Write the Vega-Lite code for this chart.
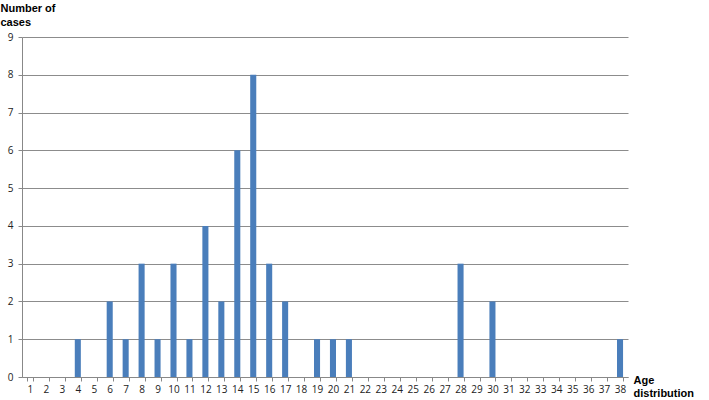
{
  "$schema": "https://vega.github.io/schema/vega-lite/v6.json",
  "width": 606,
  "height": 340,
  "autosize": {"type": "none"},
  "padding": {"left": 22, "top": 37, "right": 81, "bottom": 23},
  "background": "white",
  "data": {"values": [
    {"age": 1, "cases": 0}, {"age": 2, "cases": 0}, {"age": 3, "cases": 0}, {"age": 4, "cases": 1},
    {"age": 5, "cases": 0}, {"age": 6, "cases": 2}, {"age": 7, "cases": 1}, {"age": 8, "cases": 3},
    {"age": 9, "cases": 1}, {"age": 10, "cases": 3}, {"age": 11, "cases": 1}, {"age": 12, "cases": 4},
    {"age": 13, "cases": 2}, {"age": 14, "cases": 6}, {"age": 15, "cases": 8}, {"age": 16, "cases": 3},
    {"age": 17, "cases": 2}, {"age": 18, "cases": 0}, {"age": 19, "cases": 1}, {"age": 20, "cases": 1},
    {"age": 21, "cases": 1}, {"age": 22, "cases": 0}, {"age": 23, "cases": 0}, {"age": 24, "cases": 0},
    {"age": 25, "cases": 0}, {"age": 26, "cases": 0}, {"age": 27, "cases": 0}, {"age": 28, "cases": 3},
    {"age": 29, "cases": 0}, {"age": 30, "cases": 2}, {"age": 31, "cases": 0}, {"age": 32, "cases": 0},
    {"age": 33, "cases": 0}, {"age": 34, "cases": 0}, {"age": 35, "cases": 0}, {"age": 36, "cases": 0},
    {"age": 37, "cases": 0}, {"age": 38, "cases": 1}
  ]},
  "mark": {"type": "bar", "color": "#4a7ebb"},
  "encoding": {
    "x": {
      "field": "age", "type": "ordinal", "sort": null,
      "scale": {"paddingInner": 0.62, "paddingOuter": 0.31},
      "axis": {
        "title": ["Age", "distribution"],
        "titleFont": "Liberation Sans", "titleFontSize": 11, "titleFontWeight": "bold", "titleColor": "black",
        "titleAlign": "left", "titleBaseline": "top", "titleAnchor": null, "titleX": 611, "titleY": -3, "titleLineHeight": 13,
        "labelAngle": 0, "labelFont": "Open Sans", "labelFontSize": 10, "labelColor": "#222", "labelPadding": 3,
        "tickBand": "extent", "tickColor": "#888", "tickSize": 4, "domainColor": "#888", "grid": false
      }
    },
    "y": {
      "field": "cases", "type": "quantitative",
      "scale": {"domain": [0, 9], "nice": false},
      "axis": {
        "values": [0, 1, 2, 3, 4, 5, 6, 7, 8, 9],
        "title": ["Number of", "cases"],
        "titleFont": "Liberation Sans", "titleFontSize": 11, "titleFontWeight": "bold", "titleColor": "black",
        "titleAngle": 0, "titleAlign": "left", "titleBaseline": "top", "titleAnchor": null, "titleX": -22, "titleY": -35, "titleLineHeight": 14,
        "labelFont": "Open Sans", "labelFontSize": 10, "labelColor": "#222", "labelPadding": 5,
        "tickSize": 4, "tickColor": "#888", "domainColor": "#888",
        "gridColor": "#8c8c8c", "gridWidth": 1
      }
    }
  },
  "config": {"view": {"stroke": null}}
}
